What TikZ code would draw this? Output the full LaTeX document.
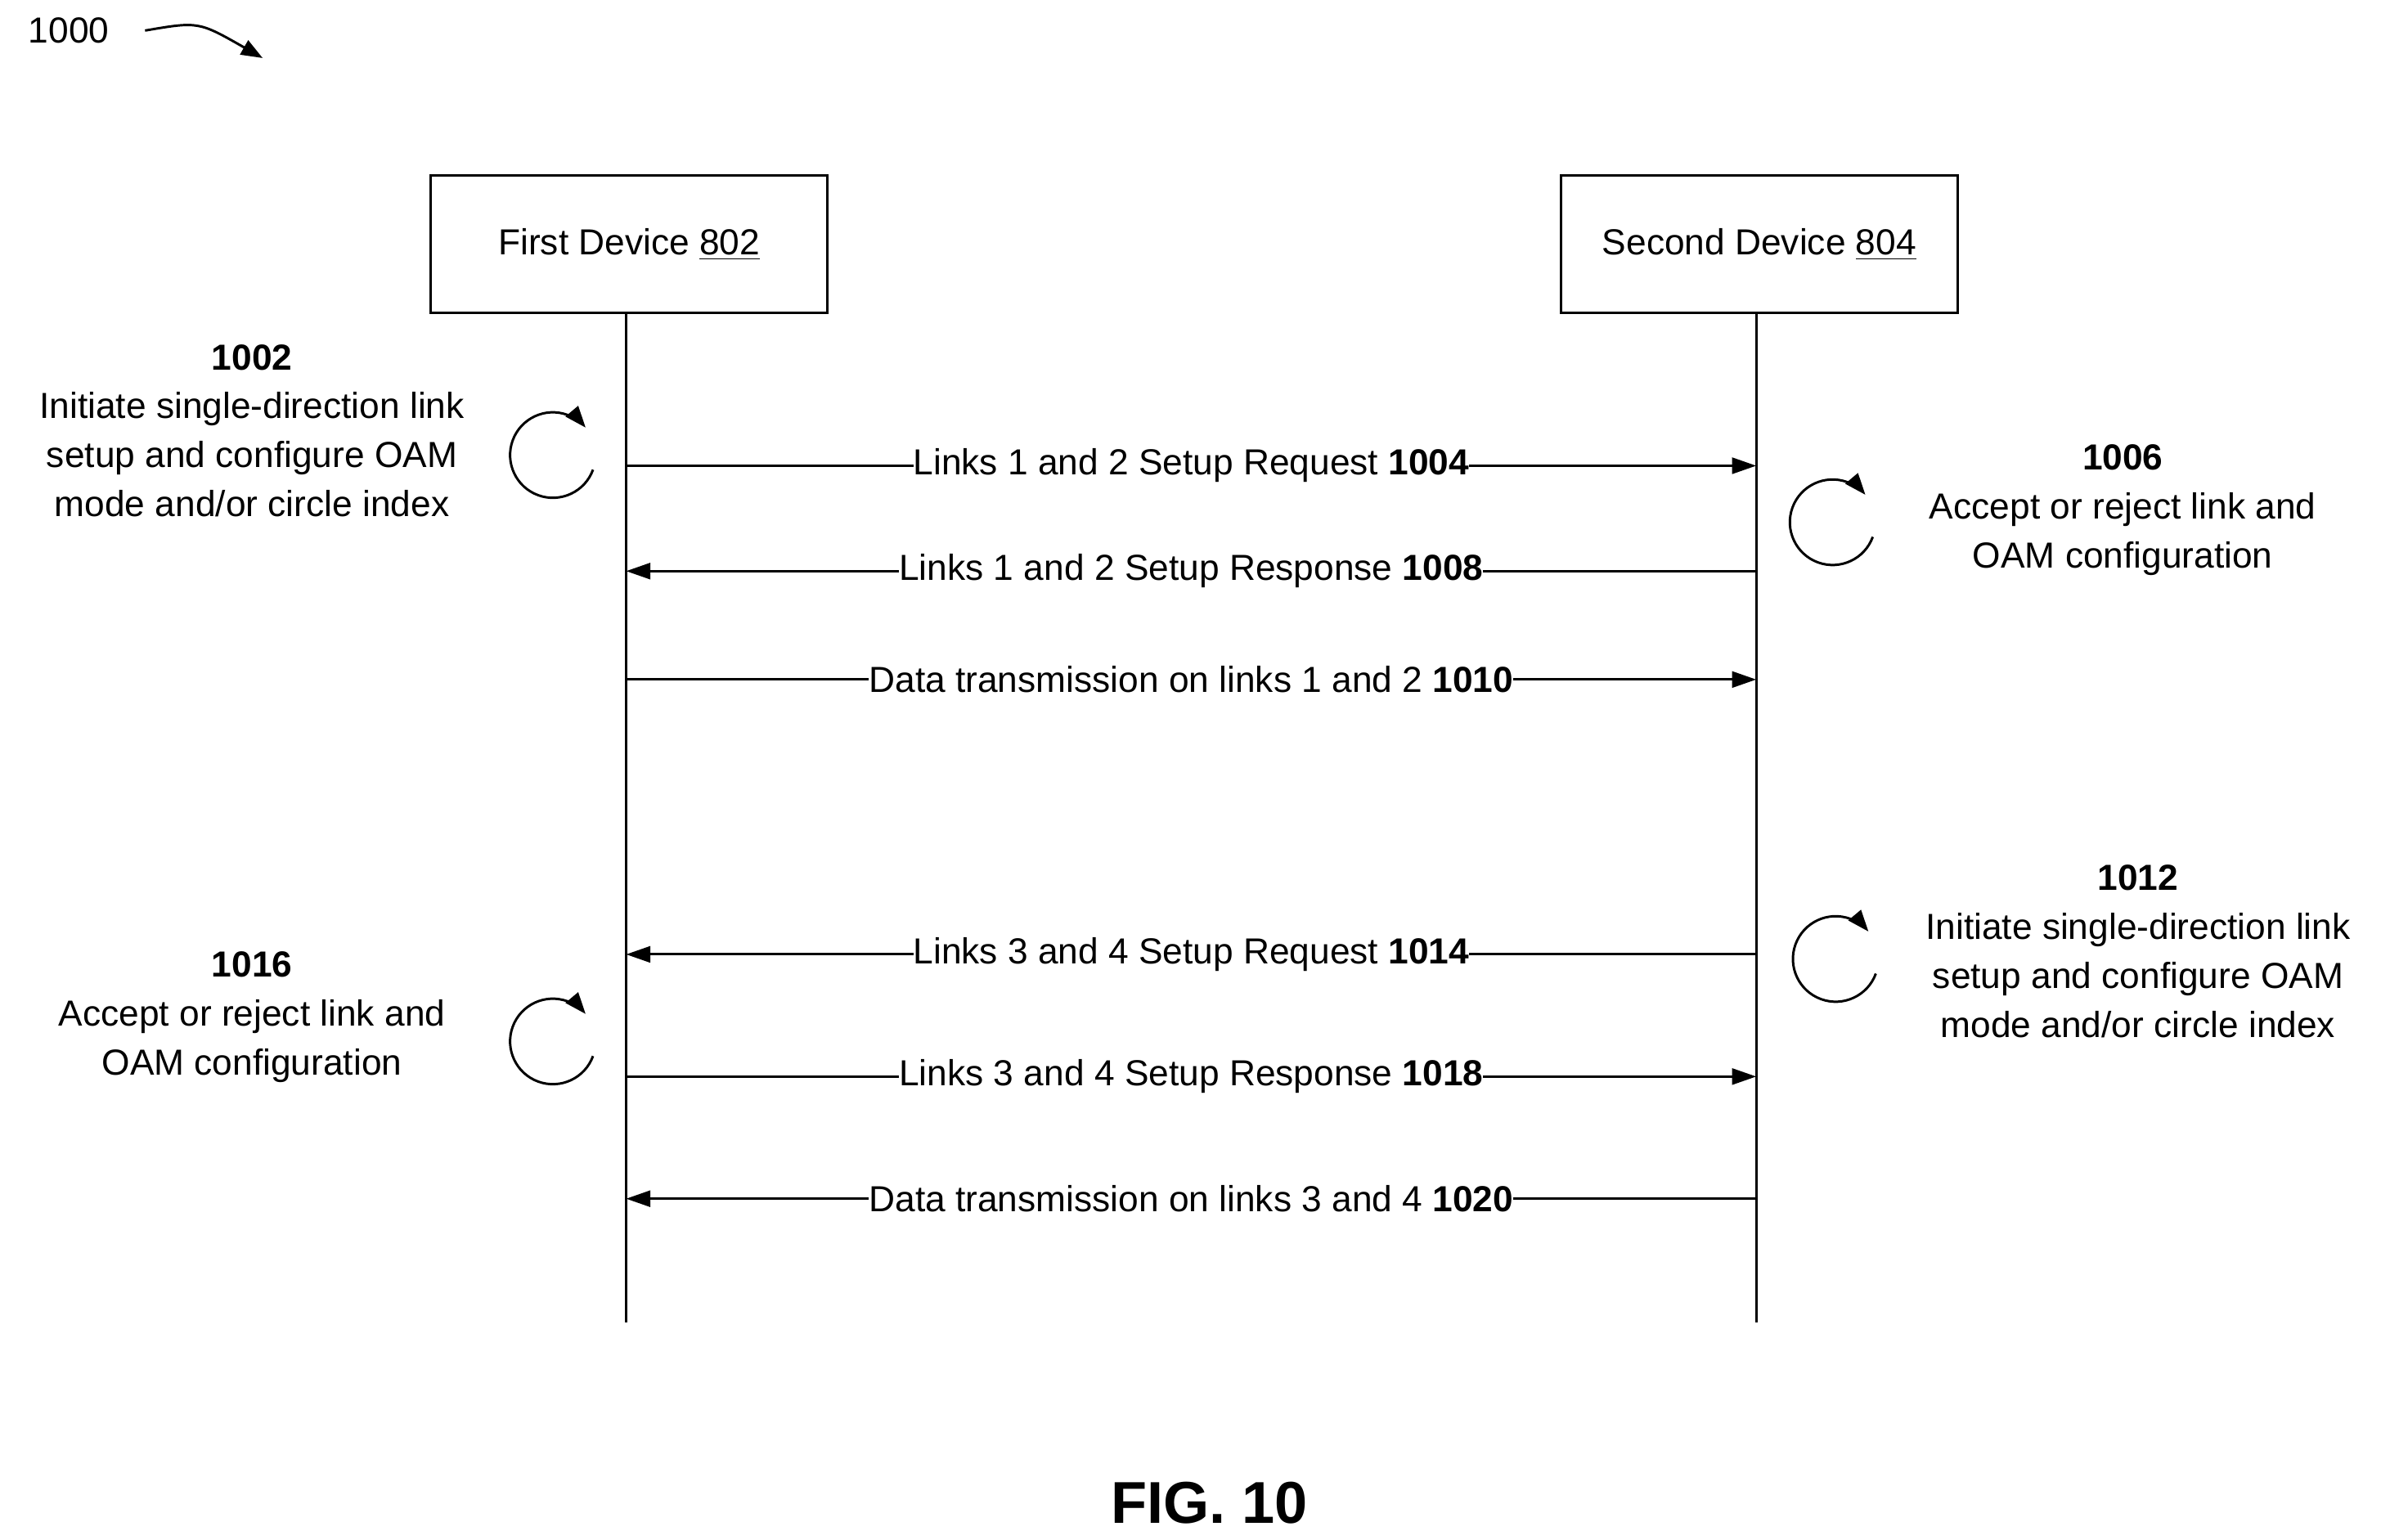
\documentclass[tikz,border=0pt]{standalone}
\usepackage{fontspec}
\setmainfont{Liberation Sans}
\usetikzlibrary{arrows.meta}
\begin{document}
\begin{tikzpicture}[x=0.02cm,y=-0.02cm,
  txt/.style={font=\fontsize{13.5pt}{18.2pt}\selectfont,align=center,inner sep=1pt},
  box/.style={draw,line width=0.9pt,minimum width=5.2cm,minimum height=1.8cm,font=\fontsize{13.5pt}{18pt}\selectfont},
  life/.style={line width=0.9pt},
  msg/.style={line width=0.9pt,-{Triangle[length=9pt,width=6pt]}},
  lab/.style={txt,fill=white,inner sep=0pt},
  loop/.style={line width=0.9pt,-{Triangle[length=8pt,width=6pt]}}]
\useasboundingbox (0,0) rectangle (1565,1008);
\node[txt] (n1000) at (45,20) {1000};
\coordinate (a0) at (95,20); \coordinate (a1) at (172,38);
\draw[line width=0.9pt,-{Triangle[length=8pt,width=6pt]}] (a0) .. controls (130,14) .. (a1);
\node[box] (d1) at (412,160) {First Device \underline{802}};
\node[box] (d2) at (1152,160) {Second Device \underline{804}};
\coordinate (e1) at (410,866); \coordinate (e2) at (1150,866);
\draw[life] (d1.south -| e1) -- (e1);
\draw[life] (d2.south -| e2) -- (e2);
\foreach \y/\d/\t [count=\i] in {305/r/Links 1 and 2 Setup Request \textbf{1004},
  374/l/Links 1 and 2 Setup Response \textbf{1008},
  445/r/Data transmission on links 1 and 2 \textbf{1010},
  625/l/Links 3 and 4 Setup Request \textbf{1014},
  705/r/Links 3 and 4 Setup Response \textbf{1018},
  785/l/Data transmission on links 3 and 4 \textbf{1020}}{
  \coordinate (L\i) at (410,\y); \coordinate (R\i) at (1150,\y);
  \if r\d \draw[msg] (L\i) -- (R\i); \else \draw[msg] (R\i) -- (L\i); \fi
  \node[lab] (m\i) at (780,\y) {\t};
}
\node[txt] (t1002) at (165,282) {\textbf{1002}\\Initiate single-direction link\\setup and configure OAM\\mode and/or circle index};
\node[txt] (t1006) at (1390,334) {\textbf{1006}\\Accept or reject link and\\OAM configuration};
\node[txt] (t1012) at (1400,623) {\textbf{1012}\\Initiate single-direction link\\setup and configure OAM\\mode and/or circle index};
\node[txt] (t1016) at (165,666) {\textbf{1016}\\Accept or reject link and\\OAM configuration};
\foreach \cx/\cy [count=\j] in {362/298, 1200/342, 1202/628, 362/682}{
  \coordinate (c\j) at (\cx,\cy);
  \draw[loop] ([shift={(20:28)}]c\j) arc[start angle=-20,end angle=-320,radius=0.56cm];
}
\node[font=\bfseries\fontsize{22pt}{26pt}\selectfont] (fig) at (792,984) {FIG. 10};
\end{tikzpicture}
\end{document}
